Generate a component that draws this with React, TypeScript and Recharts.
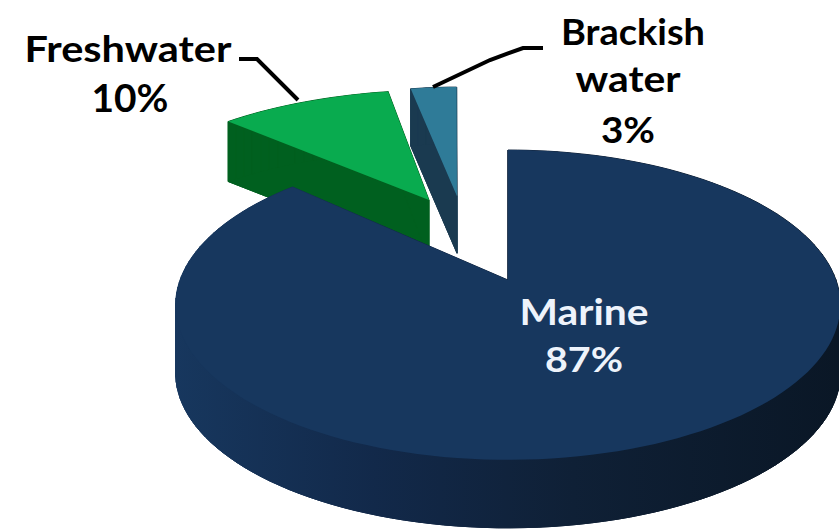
import React from "react";
import { PieChart, Pie } from "recharts";

// Share of species by habitat, in percent.
const categories = ["Freshwater", "Brackish water", "Marine"];
const shares = [10, 3, 87];
const labelRows = [["Freshwater", "10%"], ["Brackish", "water", "3%"], ["Marine", "87%"]];

const rows = categories.map((name, i) => ({ name, value: shares[i], rows: labelRows[i] }));

// Slices are painted back to front, so the large one starts after the two small ones.
const total = shares.reduce((a, b) => a + b, 0);
const smallShare = shares[0] + shares[1];
const startAngle = 90 + (smallShare / total) * 360;

// Ground plane of the tilted disc: squash and perspective strength.
const SQUASH = 0.46;
const PERSPECTIVE = 0.161;

type SliceLook = {
  du: number; dv: number; nudge: number; stretch: number; shear: number;
  depth: number; top: string; side: string;
};
const looks: SliceLook[] = [
  { du: -0.27, dv: -0.58, nudge: 2, stretch: 1.05, shear: 0, depth: 60, top: "#09ab4f", side: "#00601f" },
  { du: -0.175, dv: -0.61, nudge: 1.3, stretch: 0.94, shear: 0.0612, depth: 57, top: "#2f7b98", side: "#1a3a50" },
  { du: 0, dv: 0, nudge: 0, stretch: 1, shear: 0, depth: 68, top: "#17375e", side: "url(#marineSide)" },
];

type TextSpot = { x: number; y: number; width: number; size: number };
const labelSpots: TextSpot[][] = [
  [
    { x: 128, y: 62, width: 207, size: 37 },
    { x: 130, y: 112, width: 77, size: 39 },
  ],
  [
    { x: 633, y: 45, width: 144, size: 37 },
    { x: 628, y: 92, width: 105, size: 37 },
    { x: 628, y: 143, width: 54, size: 37 },
  ],
  [
    { x: 584, y: 325, width: 129, size: 37 },
    { x: 584, y: 372, width: 78, size: 34 },
  ],
];
const labelFill = ["#000000", "#000000", "#eef3fb"];
const leaders = [
  "239,59 257,59 298,100",
  "543,48 523,48 490,60 433,87",
  "",
];

const toPath = (pts: number[][]) =>
  "M" + pts.map((p) => `${p[0].toFixed(1)},${p[1].toFixed(1)}`).join("L") + "Z";

function Slice(props: any) {
  const { cx, cy, outerRadius, startAngle: from, endAngle: to, index } = props;
  const look = looks[index];

  const project = (u: number, v: number) => {
    const w = 1 - PERSPECTIVE * v;
    return [cx + (outerRadius * u) / w, cy + (outerRadius * SQUASH * v) / w];
  };

  const tip = project(look.du, look.dv);
  // Small per-slice correction around the slice's tip.
  const settle = (p: number[]) => [
    tip[0] + look.nudge + look.stretch * (p[0] - tip[0]) + look.shear * (p[1] - tip[1]),
    p[1],
  ];

  const outline: number[][] = [settle(tip)];
  const steps = Math.max(4, Math.ceil(Math.abs(from - to) / 2));
  for (let i = 0; i <= steps; i++) {
    const deg = from + ((to - from) * i) / steps;
    const t = ((90 - deg) * Math.PI) / 180;
    outline.push(settle(project(look.du + Math.sin(t), look.dv - Math.cos(t))));
  }

  const walls = outline.map((p, i) => {
    const q = outline[(i + 1) % outline.length];
    return toPath([p, q, [q[0], q[1] + look.depth], [p[0], p[1] + look.depth]]);
  });
  const floor = outline.map((p) => [p[0], p[1] + look.depth]);

  return (
    <g>
      <defs>
        <linearGradient id="marineSide" gradientUnits="userSpaceOnUse" x1="175" y1="0" x2="838" y2="0">
          <stop offset="0" stopColor="#17375e" />
          <stop offset="0.3" stopColor="#12294a" />
          <stop offset="0.6" stopColor="#0f2036" />
          <stop offset="1" stopColor="#0a1726" />
        </linearGradient>
      </defs>
      <path d={toPath(floor)} fill={look.side} stroke={look.side} strokeWidth={1} />
      {walls.map((d, i) => (
        <path key={i} d={d} fill={look.side} stroke={look.side} strokeWidth={1} />
      ))}
      <path d={toPath(outline)} fill={look.top} />
    </g>
  );
}

function SliceLabel(props: any) {
  const { index, payload } = props;
  const spots = labelSpots[index];
  const lines: string[] = (payload && payload.rows) || props.rows;
  return (
    <g>
      {leaders[index] && (
        <polyline points={leaders[index]} fill="none" stroke="#000000" strokeWidth={4} />
      )}
      {lines.map((line, i) => (
        <text
          key={line}
          x={spots[i].x}
          y={spots[i].y}
          textAnchor="middle"
          fontFamily="Lato"
          fontWeight={700}
          fontSize={spots[i].size}
          fill={labelFill[index]}
          textLength={spots[i].width}
          lengthAdjust="spacingAndGlyphs"
        >
          {line}
        </text>
      ))}
    </g>
  );
}

export default function App() {
  return (
    <div style={{ position: "absolute", left: 0, top: 0, width: 839, height: 529, background: "#ffffff" }}>
      <PieChart width={839} height={529} margin={{ top: 0, right: 0, bottom: 0, left: 0 }}>
        <Pie
          data={rows}
          dataKey="value"
          nameKey="name"
          cx={508}
          cy={280}
          outerRadius={328}
          startAngle={startAngle}
          endAngle={startAngle - 360}
          stroke="none"
          shape={Slice}
          label={SliceLabel}
          labelLine={false}
          rootTabIndex={-1}
          isAnimationActive={false}
        />
      </PieChart>
    </div>
  );
}
